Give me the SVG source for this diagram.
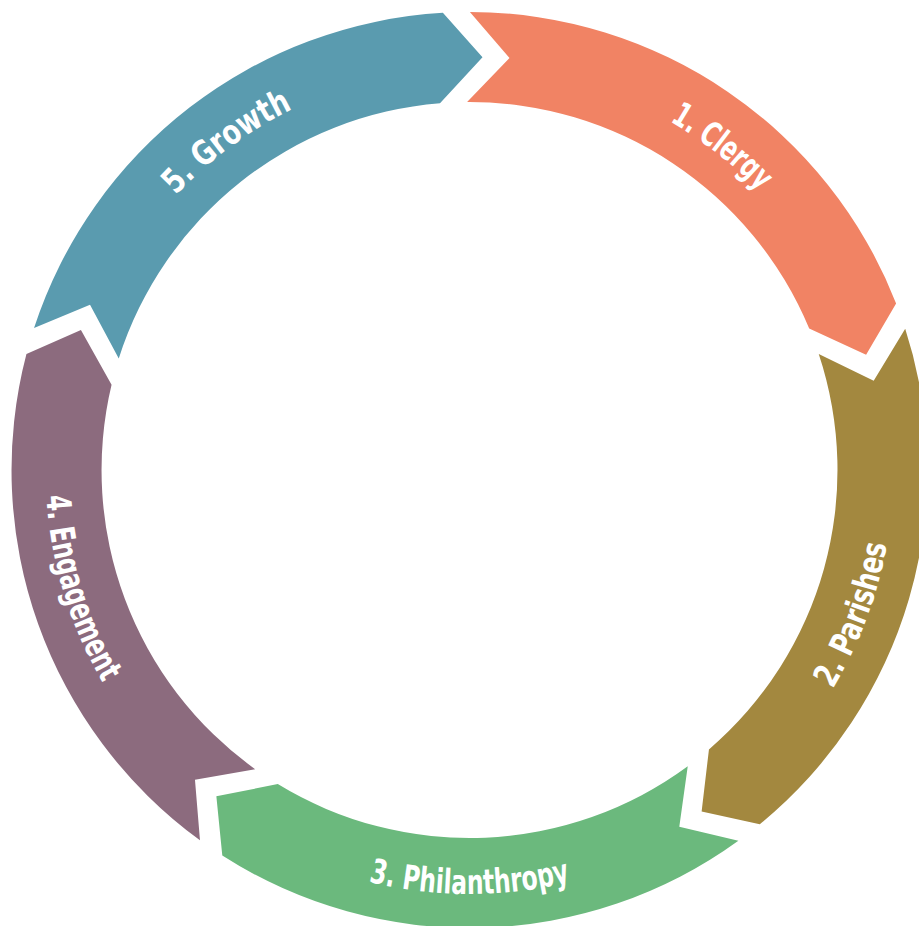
<svg xmlns="http://www.w3.org/2000/svg" xmlns:xlink="http://www.w3.org/1999/xlink" width="919" height="926" viewBox="0 0 919 926">
  <style>
    .lbl { font-family: "DejaVu Sans Condensed", "DejaVu Sans", "Liberation Sans", sans-serif; font-stretch: condensed; font-weight: bold; font-size: 34px; fill: #ffffff; }
  </style>
  <defs>
    <path id="seg" d="M 469.9 12.0 A 458 458 0 0 1 896.1 303.4 L 866.1 354.8 L 809.2 328.6 A 368 368 0 0 0 467.1 102.0 L 509.5 58.0 Z"/>
    <path id="p1" d="M 525.4 71.9 A 402 402 0 0 1 842.2 319.4"/>
    <path id="p2" d="M 738.7 797.6 A 424 424 0 0 0 887.8 400.8"/>
    <path id="p3" d="M 257.5 837.2 A 424 424 0 0 0 681.5 837.2"/>
    <path id="p4" d="M 56.7 373.2 A 424 424 0 0 0 179.3 779.1"/>
    <path id="p5" d="M 100.8 309.7 A 402 402 0 0 1 424.0 70.6"/>
  </defs>
  <rect width="919" height="926" fill="#ffffff"/>
  <g id="connectors"></g>
  <g id="clergy">
    <use xlink:href="#seg" href="#seg" fill="#F18364"/>
    <text class="lbl"><textPath xlink:href="#p1" href="#p1" startOffset="50%" text-anchor="middle" textLength="114" lengthAdjust="spacingAndGlyphs">1. Clergy</textPath></text>
  </g>
  <g id="parishes">
    <use xlink:href="#seg" href="#seg" fill="#A3883F" transform="rotate(72 469.5 470)"/>
    <text class="lbl"><textPath xlink:href="#p2" href="#p2" startOffset="50%" text-anchor="middle" textLength="155" lengthAdjust="spacingAndGlyphs">2. Parishes</textPath></text>
  </g>
  <g id="philanthropy">
    <use xlink:href="#seg" href="#seg" fill="#6BB97D" transform="rotate(144 469.5 470)"/>
    <text class="lbl"><textPath xlink:href="#p3" href="#p3" startOffset="50%" text-anchor="middle" textLength="204" lengthAdjust="spacingAndGlyphs">3. Philanthropy</textPath></text>
  </g>
  <g id="engagement">
    <use xlink:href="#seg" href="#seg" fill="#8C6B7E" transform="rotate(216 469.5 470)"/>
    <text class="lbl"><textPath xlink:href="#p4" href="#p4" startOffset="50%" text-anchor="middle" textLength="197" lengthAdjust="spacingAndGlyphs">4. Engagement</textPath></text>
  </g>
  <g id="growth">
    <use xlink:href="#seg" href="#seg" fill="#5A9BAF" transform="rotate(288 469.5 470)"/>
    <text class="lbl"><textPath xlink:href="#p5" href="#p5" startOffset="50%" text-anchor="middle" textLength="146" lengthAdjust="spacingAndGlyphs">5. Growth</textPath></text>
  </g>
</svg>
